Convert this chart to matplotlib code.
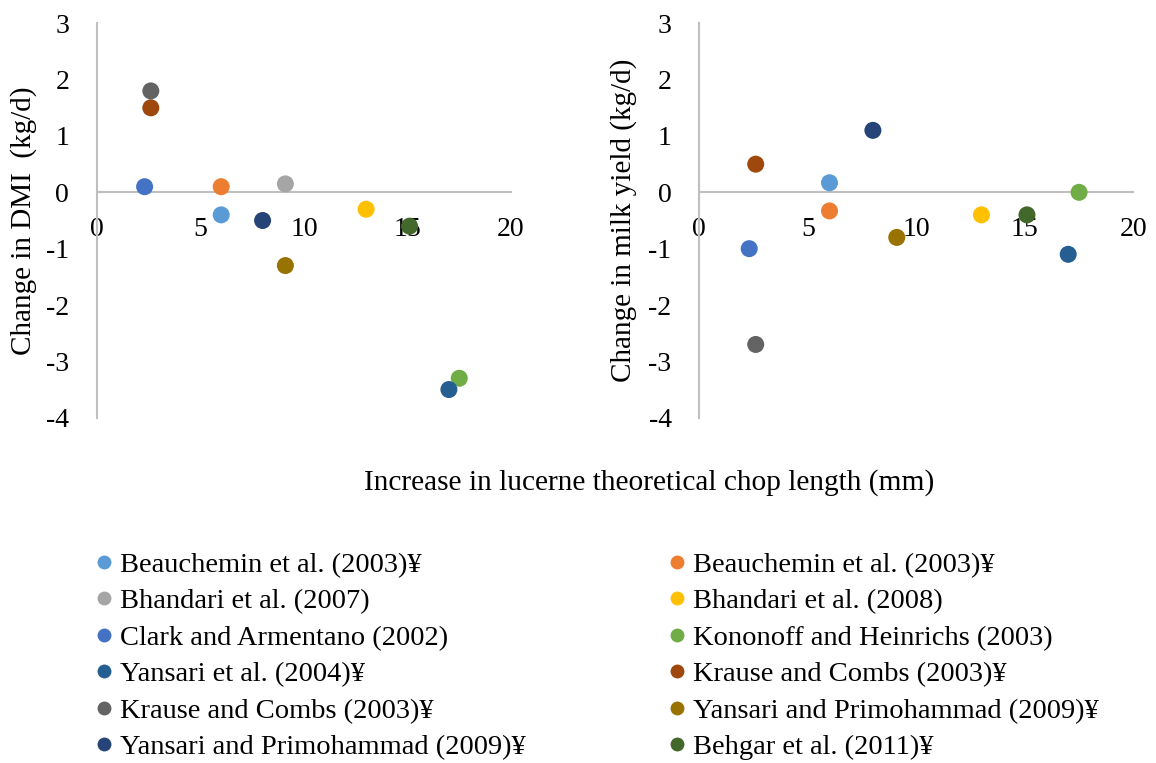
import numpy as np
import matplotlib
matplotlib.use("Agg")
import matplotlib.pyplot as plt
from matplotlib.lines import Line2D

plt.rcParams["font.family"] = ["Liberation Serif", "DejaVu Serif"]
plt.rcParams["axes.unicode_minus"] = False

studies = [
    "Beauchemin et al. (2003)¥",
    "Beauchemin et al. (2003)¥",
    "Bhandari et al. (2007)",
    "Bhandari et al. (2008)",
    "Clark and Armentano (2002)",
    "Kononoff and Heinrichs (2003)",
    "Yansari et al. (2004)¥",
    "Krause and Combs (2003)¥",
    "Krause and Combs (2003)¥",
    "Yansari and Primohammad (2009)¥",
    "Yansari and Primohammad (2009)¥",
    "Behgar et al. (2011)¥",
]
colors = ["#5B9BD5", "#ED7D31", "#A5A5A5", "#FFC000", "#4472C4", "#70AD47",
          "#255E91", "#9E480E", "#636363", "#997300", "#264478", "#43682B"]

# increase in theoretical chop length (mm)
chop_increase = [6.0, 6.0, 9.1, 13.0, 2.3, 17.5, 17.0, 2.6, 2.6, 9.1, 8.0, 15.1]
# change in dry matter intake (kg/d)
dmi_change = [-0.4, 0.1, 0.15, -0.3, 0.1, -3.3, -3.5, 1.5, 1.8, -1.3, -0.5, -0.6]
# change in milk yield (kg/d); no milk data for Bhandari et al. (2007)
milk_change = [0.17, -0.33, np.nan, -0.4, -1.0, 0.0, -1.1, 0.5, -2.7, -0.8, 1.1, -0.4]

x_ticks = [0, 5, 10, 15, 20]
y_ticks = [-4, -3, -2, -1, 0, 1, 2, 3]

W, H = 1156, 763
fig = plt.figure(figsize=(W / 100, H / 100), dpi=100)

def px_axes(x0, x1, y0, y1):
    return fig.add_axes([x0 / W, 1 - y1 / H, (x1 - x0) / W, (y1 - y0) / H])

ax1 = px_axes(97, 511, 23.3, 417.7)
ax2 = px_axes(699.3, 1133.3, 23.3, 417.7)

grey = "#BFBFBF"
for ax, vals, ylab in [(ax1, dmi_change, "Change in DMI  (kg/d)"),
                       (ax2, milk_change, "Change in milk yield (kg/d)")]:
    for xv, yv, c in zip(chop_increase, vals, colors):
        if np.isnan(yv):
            continue
        ax.scatter([xv], [yv], s=150, color=c, edgecolors="none", zorder=3,
                   clip_on=False)
    ax.set_xlim(0, 20)
    ax.set_ylim(-4, 3)
    ax.set_xticks(x_ticks)
    ax.set_yticks(y_ticks)
    ax.spines["top"].set_visible(False)
    ax.spines["right"].set_visible(False)
    ax.spines["bottom"].set_position(("data", 0))
    for s in ("left", "bottom"):
        ax.spines[s].set_color(grey)
        ax.spines[s].set_linewidth(1.5)
    ax.tick_params(axis="x", length=0, pad=17.5, labelsize=20)
    ax.tick_params(axis="y", length=0, pad=20, labelsize=20)
    ax.set_ylabel(ylab, fontsize=21)
    ax.patch.set_alpha(0)

ax1.yaxis.set_label_coords((37 - 97) / 414, 0.5)
ax2.yaxis.set_label_coords((637 - 699.3) / 434, 0.5)

fig.text(649 / W, 1 - 483 / H, "Increase in lucerne theoretical chop length (mm)",
         ha="center", va="center", fontsize=21.2)

handles = [Line2D([], [], linestyle="none", marker="o", markersize=10,
                  markerfacecolor=c, markeredgecolor="none") for c in colors]

def column_legend(idx, x_left, y_top):
    leg = fig.legend([handles[i] for i in idx], [studies[i] for i in idx],
                     loc="upper left", bbox_to_anchor=(x_left / W, 1 - y_top / H),
                     frameon=False, fontsize=20.5, handlelength=0.58,
                     handletextpad=0.26, labelspacing=0.37, borderpad=0,
                     borderaxespad=0)
    return leg

column_legend(list(range(0, 12, 2)), 96, 552)
column_legend(list(range(1, 12, 2)), 669, 552)

fig.savefig("out.png", dpi=100)
